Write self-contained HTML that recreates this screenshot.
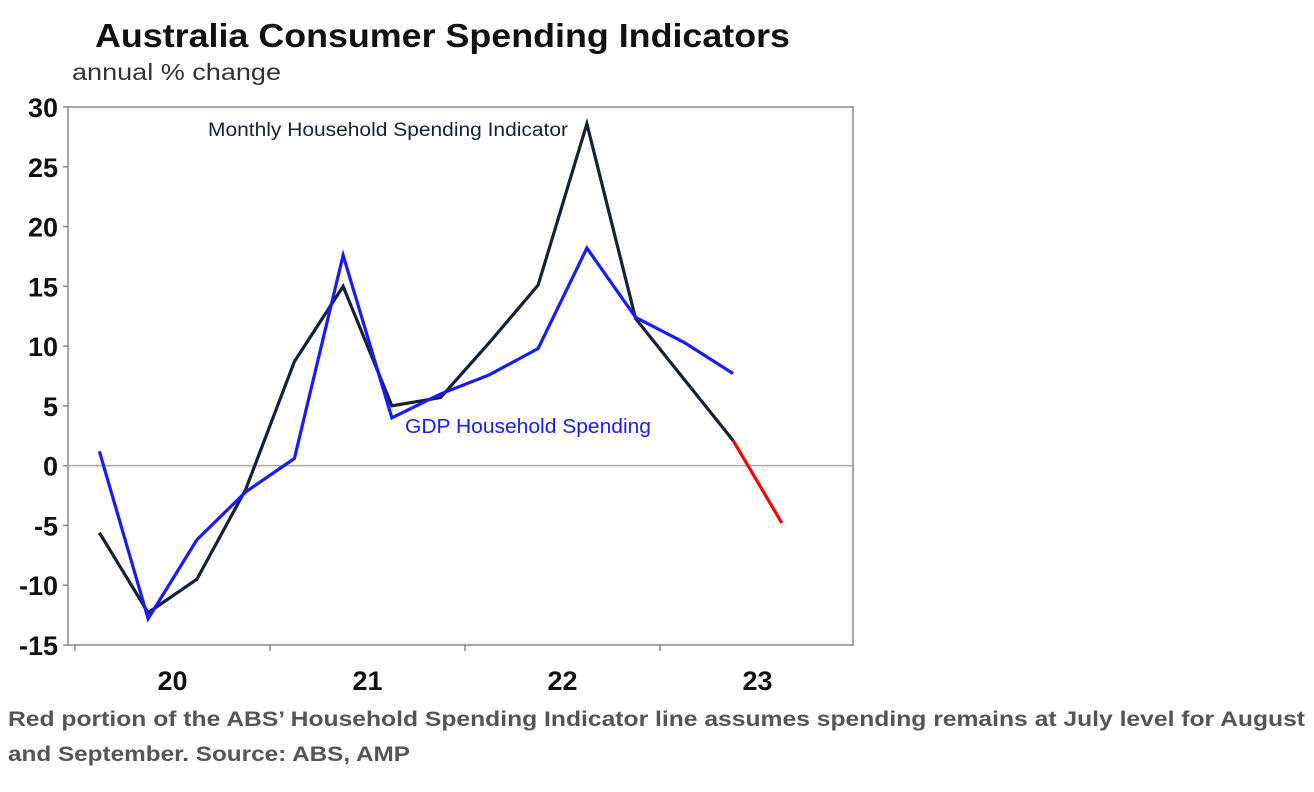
<!DOCTYPE html>
<html><head><meta charset="utf-8"><style>
body{margin:0;background:#fff;width:1314px;height:792px;overflow:hidden;font-family:"Liberation Sans",sans-serif}
</style></head><body>
<svg id="chart" width="1314" height="792" style="position:absolute;left:0;top:0">
<text x="95" y="47" font-size="33" font-weight="bold" fill="#111" textLength="695" lengthAdjust="spacingAndGlyphs">Australia Consumer Spending Indicators</text>
<text x="72" y="80" font-size="23" fill="#333" textLength="209" lengthAdjust="spacingAndGlyphs">annual % change</text>
<g id="g"></g>
<g font-size="21" font-weight="bold" fill="#555">
<text x="8" y="726" textLength="1297" lengthAdjust="spacingAndGlyphs">Red portion of the ABS’ Household Spending Indicator line assumes spending remains at July level for August</text>
<text x="8" y="761" textLength="402" lengthAdjust="spacingAndGlyphs">and September. Source: ABS, AMP</text>
</g>
</svg>
<script>
const yTicks=[30,25,20,15,10,5,0,-5,-10,-15];
const years=["20","21","22","23"];
const monthly=[-5.6,-12.3,-9.5,-2.0,8.7,15.0,5.0,5.7,10.3,15.1,28.6,12.3,7.2,2.1];
const monthlyProj=[2.1,-4.8];
const gdp=[1.2,-12.8,-6.2,-2.2,0.6,17.6,4.0,6.0,7.6,9.8,18.2,12.4,10.3,7.7];
const L=68,R=853,T=107,B=645,X0=75,Q=48.75;
const y=v=>T+(30-v)*(B-T)/45;
const x=i=>X0+(i+0.5)*Q;
const ns="http://www.w3.org/2000/svg",g=document.getElementById('g');
function mk(t,a){const e=document.createElementNS(ns,t);for(const k in a)e.setAttribute(k,a[k]);g.appendChild(e);return e;}
let e=mk('rect',{x:L,y:T,width:R-L,height:B-T,fill:'none',stroke:'#888','stroke-width':1.5});


e=mk('line',{x1:L,x2:R,y1:y(0),y2:y(0),stroke:'#aaa','stroke-width':1.5});


yTicks.forEach(v=>{
 let t=mk('line',{x1:L-5,x2:L,y1:y(v),y2:y(v),stroke:'#888','stroke-width':1.5});
 
 
 let l=mk('text',{x:58,y:y(v)+10,'text-anchor':'end','font-size':27,'font-weight':'bold',fill:'#111'});
 l.textContent=v;
 
 
});
years.forEach((s,k)=>{
 let t=mk('line',{x1:X0+k*4*Q,x2:X0+k*4*Q,y1:B,y2:B+6,stroke:'#888','stroke-width':1.5});
 
 
 let l=mk('text',{x:X0+(k*4+2)*Q,y:690,'text-anchor':'middle','font-size':27,'font-weight':'bold',fill:'#111'});
 l.textContent=s;
 
 
});
function line(arr,off,col,name){
 let p=mk('polyline',{points:arr.map((v,i)=>x(i+off)+','+y(v)).join(' '),fill:'none',stroke:col,'stroke-width':3.2,'stroke-linejoin':'miter'});
 
 
}
line(monthly,0,'#14213d','monthly-spending-line');
line(monthlyProj,monthly.length-1,'#ff0000','monthly-projection-line');
line(gdp,0,'#1a1aff','gdp-spending-line');
e=mk('text',{x:208,y:136,'font-size':19,fill:'#14213d',textLength:360,lengthAdjust:'spacingAndGlyphs'});e.textContent='Monthly Household Spending Indicator';


e=mk('text',{x:405,y:433,'font-size':20,fill:'#1a1aff',textLength:246,lengthAdjust:'spacingAndGlyphs'});e.textContent='GDP Household Spending';


</script>
</body></html>
